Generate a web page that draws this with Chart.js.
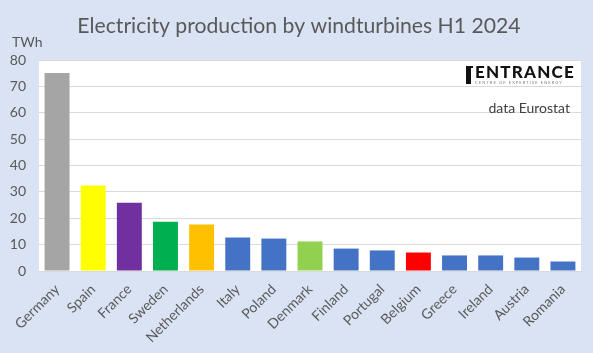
<!DOCTYPE html>
<html>
<head>
<meta charset="utf-8">
<script src="https://cdn.jsdelivr.net/npm/chart.js@4.4.1/dist/chart.umd.min.js"></script>
<style>
    html, body { margin: 0; padding: 0; background: #DAE3F3; }
    #wrap { width: 593px; height: 353px; }
</style>
</head>
<body>
<div id="wrap"><canvas id="wind" width="593" height="353"></canvas></div>
<script>
(function () {
    'use strict';

    // H1 2024, TWh
    var countries = ['Germany', 'Spain', 'France', 'Sweden', 'Netherlands', 'Italy', 'Poland',
        'Denmark', 'Finland', 'Portugal', 'Belgium', 'Greece', 'Ireland', 'Austria', 'Romania'];
    var production = [75.1, 32.4, 25.9, 18.7, 17.6, 12.7, 12.3, 11.2, 8.5, 7.8, 7.0, 5.9, 5.9, 5.1, 3.6];
    var barColors = ['#A5A5A5', '#FFFF00', '#7030A0', '#00B050', '#FFC000', '#4472C4', '#4472C4',
        '#92D050', '#4472C4', '#4472C4', '#FF0000', '#4472C4', '#4472C4', '#4472C4', '#4472C4'];
    var yMax = 80;
    var yStep = 10;

    var font = 'Lato';
    var textGrey = '#595959';

    // white plot area, title, unit and the logo box
    var decorations = {
        id: 'decorations',
        beforeDraw: function (chart) {
            var ctx = chart.ctx;
            var a = chart.chartArea;
            ctx.save();
            ctx.fillStyle = '#FFFFFF';
            ctx.fillRect(a.left, a.top, a.right - a.left, a.bottom - a.top);
            ctx.restore();
        },
        afterDraw: function (chart) {
            var ctx = chart.ctx;
            ctx.save();
            ctx.fillStyle = textGrey;
            ctx.textBaseline = 'alphabetic';
            ctx.textAlign = 'center';
            ctx.font = '21.2px ' + font;
            ctx.fillText('Electricity production by windturbines H1 2024', 299, 33);

            ctx.textAlign = 'left';
            ctx.font = '14px ' + font;
            ctx.fillText('TWh', 12, 47);

            // logo
            ctx.fillStyle = '#111111';
            ctx.fillRect(466, 66, 5, 18);
            ctx.fillRect(466, 66, 7, 2);
            ctx.font = '900 17px ' + font;
            ctx.letterSpacing = '1.2px';
            ctx.fillText('ENTRANCE', 475, 78);
            ctx.fillStyle = '#7F7F7F';
            ctx.font = '4px ' + font;
            ctx.letterSpacing = '1.1px';
            ctx.fillText('CENTRE OF EXPERTISE ENERGY', 475, 84);
            ctx.letterSpacing = '0px';

            ctx.fillStyle = '#404040';
            ctx.font = '14px ' + font;
            ctx.textAlign = 'right';
            ctx.fillText('data Eurostat', 570, 113);
            ctx.restore();
        }
    };

    new Chart(document.getElementById('wind'), {
        type: 'bar',
        data: {
            labels: countries,
            datasets: [
                {
                    label: 'TWh',
                    data: production,
                    backgroundColor: barColors,
                    barPercentage: 0.69,
                    categoryPercentage: 1.0
                }
            ]
        },
        options: {
            responsive: false,
            animation: false,
            layout: {padding: {top: 60, right: 12, left: 0, bottom: 0}},
            plugins: {
                legend: {display: false},
                title: {display: false},
                tooltip: {enabled: false}
            },
            scales: {
                x: {
                    grid: {display: false},
                    border: {color: '#D9D9D9'},
                    ticks: {
                        color: textGrey,
                        font: {family: font, size: 14},
                        minRotation: 45,
                        maxRotation: 45,
                        autoSkip: false,
                        padding: 2
                    },
                    afterFit: function (scale) { scale.height = 82; }
                },
                y: {
                    min: 0,
                    max: yMax,
                    grid: {color: '#D9D9D9', drawTicks: false},
                    border: {display: false},
                    ticks: {
                        stepSize: yStep,
                        color: textGrey,
                        font: {family: font, size: 14},
                        padding: 13
                    },
                    afterFit: function (scale) { scale.width = 39; }
                }
            }
        },
        plugins: [decorations]
    });
})();
</script>
</body>
</html>
